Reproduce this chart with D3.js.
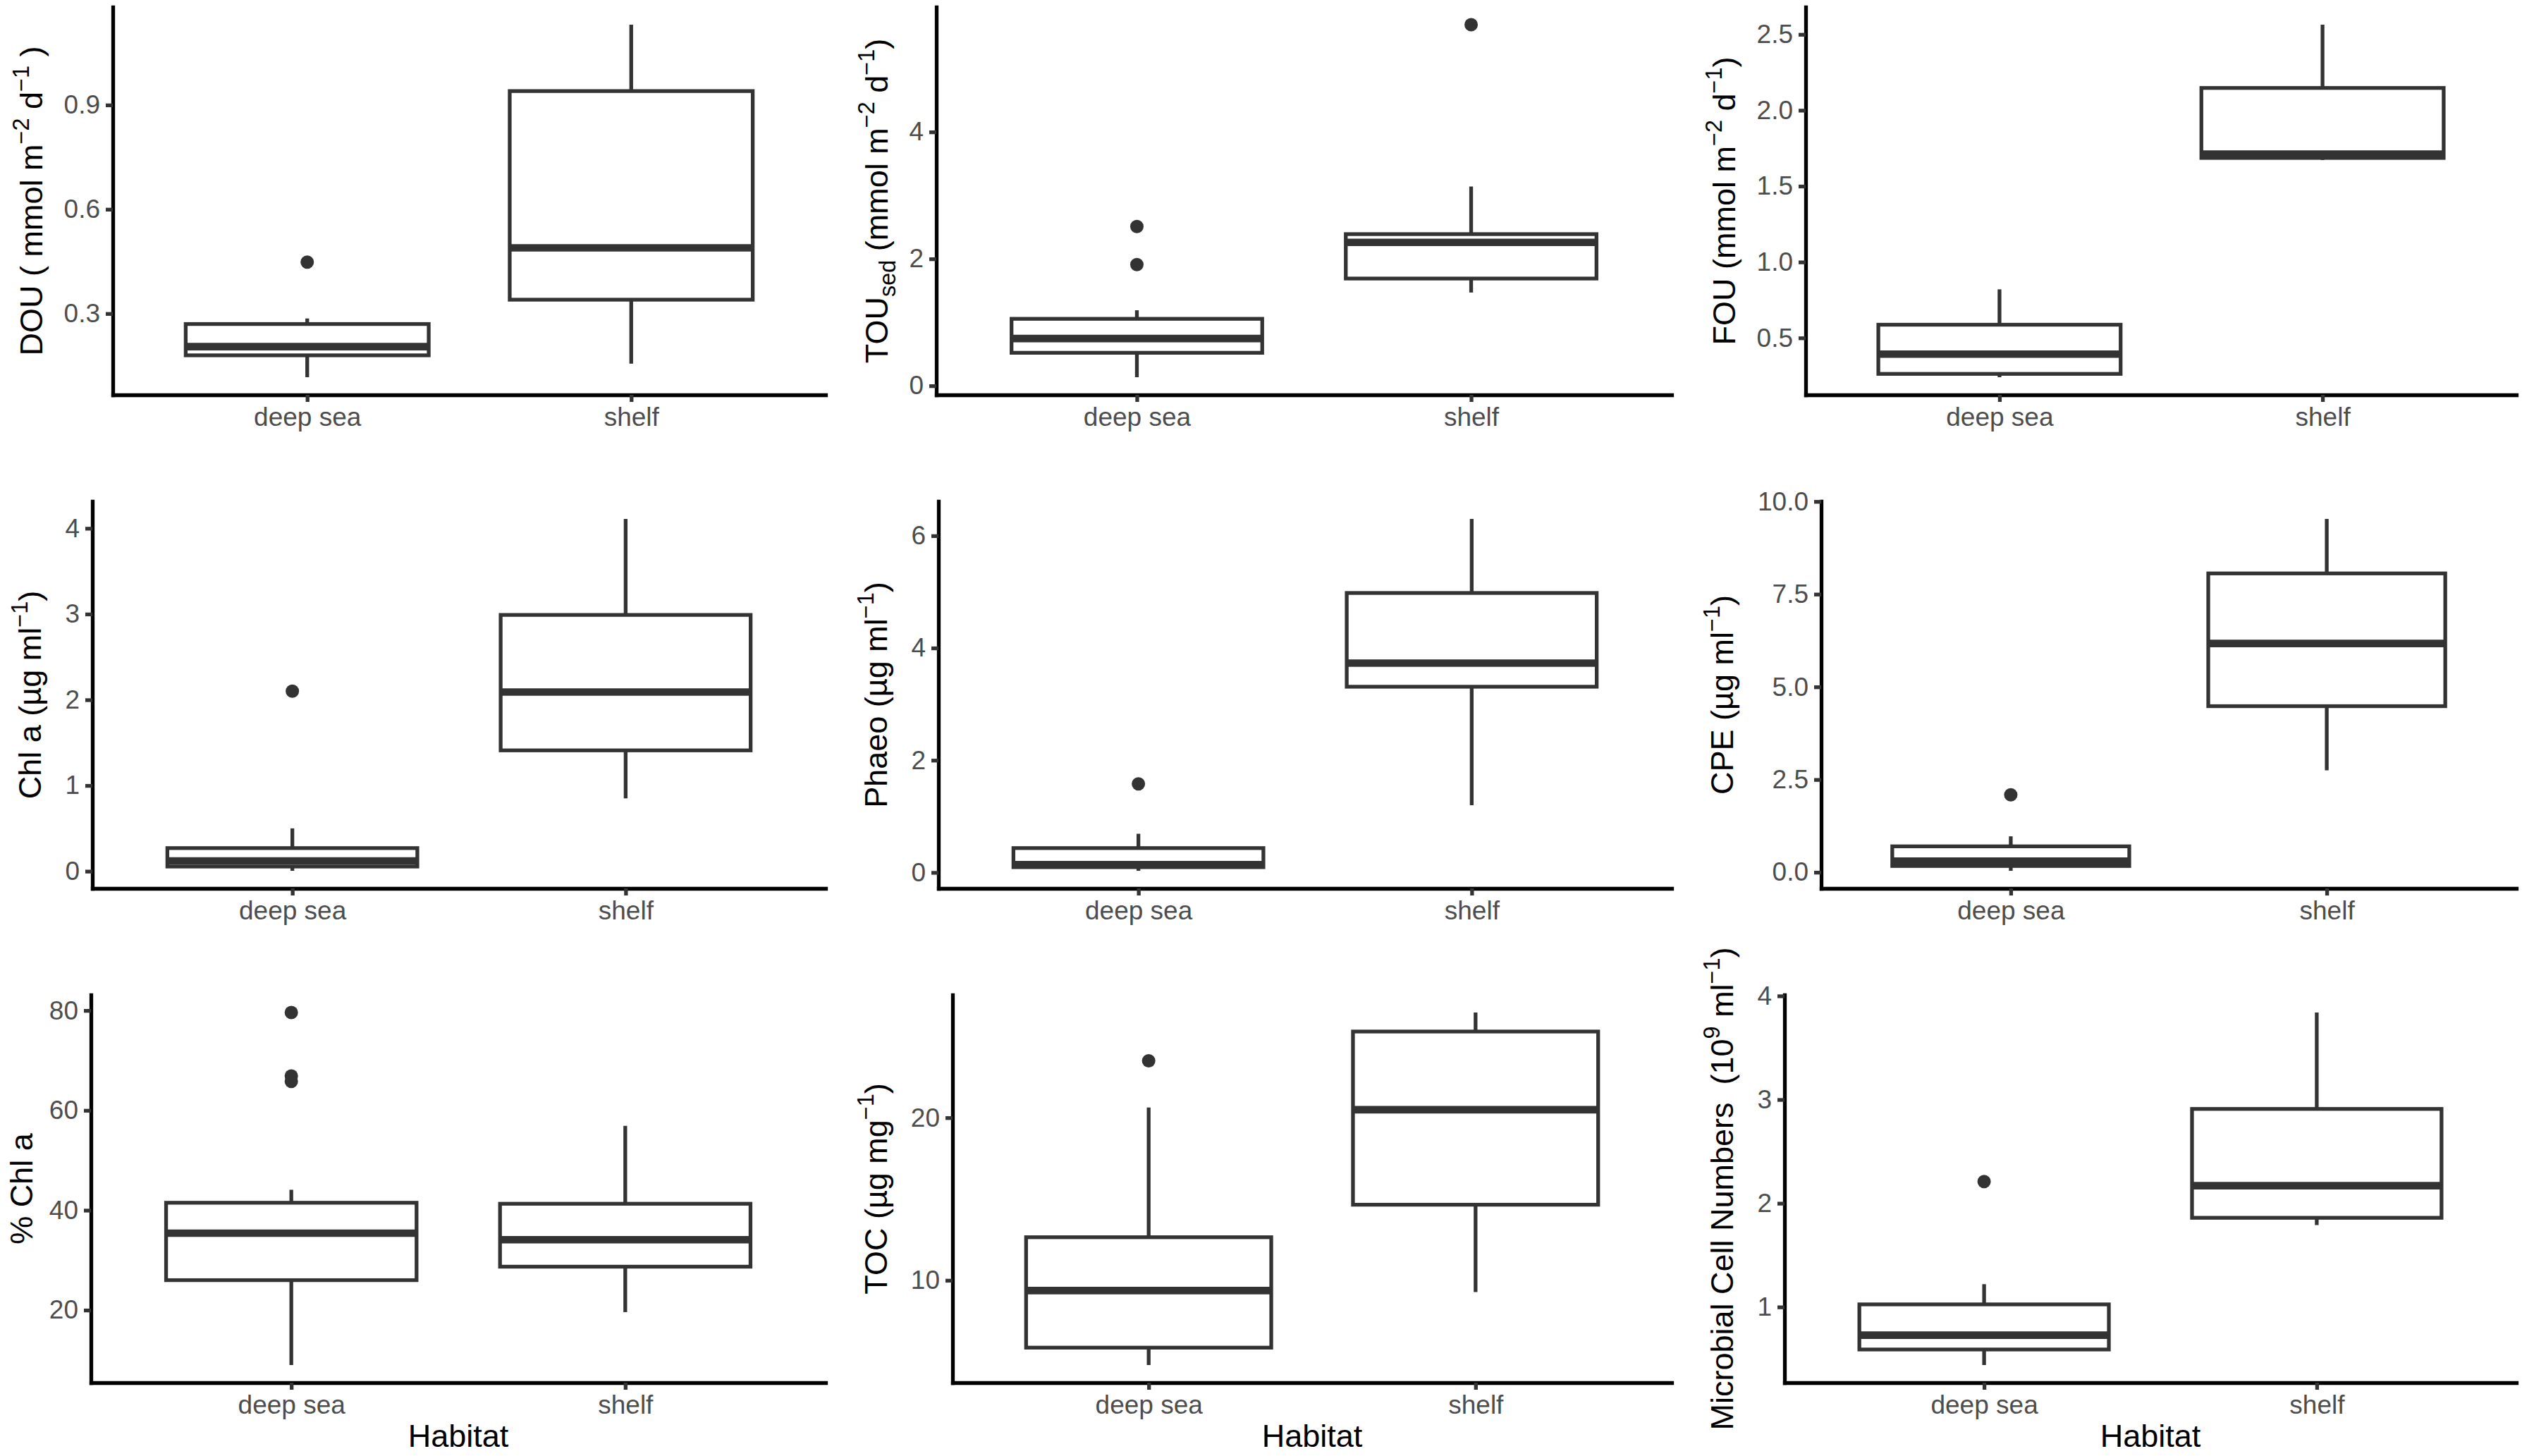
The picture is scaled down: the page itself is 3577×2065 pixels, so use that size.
<!DOCTYPE html>
<html>
<head>
<meta charset="utf-8">
<script src="https://cdn.jsdelivr.net/npm/d3@7"></script>
<style>
  body { margin: 0; background: #fff; }
  svg { display: block; font-family: "Liberation Sans", Arial, Helvetica, sans-serif; }
</style>
</head>
<body>
<div id="chart"></div>
<script>
// categories on every x axis
const habitats = ["deep sea", "shelf"];

// boxplot stats per habitat: [lower whisker, Q1, median, Q3, upper whisker]
const douStats = [[0.117, 0.18, 0.205, 0.27, 0.286], [0.156, 0.34, 0.489, 0.94, 1.131]];
const douOutliers = [[0.448], []];
const douTicks = ["0.3", "0.6", "0.9"];

const touStats = [[0.135, 0.52, 0.745, 1.055, 1.19], [1.47, 1.69, 2.26, 2.39, 3.14]];
const touOutliers = [[1.91, 2.51], [5.69]];
const touTicks = ["0", "2", "4"];

const fouStats = [[0.241, 0.263, 0.393, 0.587, 0.82], [1.672, 1.686, 1.711, 2.147, 2.564]];
const fouOutliers = [[], []];
const fouTicks = ["0.5", "1.0", "1.5", "2.0", "2.5"];

const chlaStats = [[0.005, 0.055, 0.12, 0.27, 0.5], [0.85, 1.41, 2.09, 2.99, 4.11]];
const chlaOutliers = [[2.1], []];
const chlaTicks = ["0", "1", "2", "3", "4"];

const phaeoStats = [[0.03, 0.095, 0.14, 0.435, 0.69], [1.2, 3.31, 3.73, 4.98, 6.3]];
const phaeoOutliers = [[1.58], []];
const phaeoTicks = ["0", "2", "4", "6"];

const cpeStats = [[0.04, 0.17, 0.3, 0.7, 0.97], [2.75, 4.48, 6.17, 8.06, 9.53]];
const cpeOutliers = [[2.09], []];
const cpeTicks = ["0.0", "2.5", "5.0", "7.5", "10.0"];

const pctChlaStats = [[9.0, 26.0, 35.4, 41.5, 44.1], [19.6, 28.7, 34.1, 41.3, 56.9]];
const pctChlaOutliers = [[79.6, 66.9, 65.8], []];
const pctChlaTicks = ["20", "40", "60", "80"];

const tocStats = [[4.79, 5.86, 9.37, 12.65, 20.63], [9.28, 14.65, 20.49, 25.3, 26.47]];
const tocOutliers = [[23.5], []];
const tocTicks = ["10", "20"];

const cellStats = [[0.44, 0.59, 0.728, 1.025, 1.22], [1.79, 1.86, 2.17, 2.91, 3.84]];
const cellOutliers = [[2.21], []];
const cellTicks = ["1", "2", "3", "4"];

// y axis titles, as [text, "sup" | "sub"] pieces
const douTitle = [["DOU ( mmol m"], ["−2", "sup"], [" d"], ["−1", "sup"], [" )"]];
const touTitle = [["TOU"], ["sed", "sub"], [" (mmol m"], ["−2", "sup"], [" d"], ["−1", "sup"], [")"]];
const fouTitle = [["FOU (mmol m"], ["−2", "sup"], [" d"], ["−1", "sup"], [")"]];
const chlaTitle = [["Chl a (µg ml"], ["−1", "sup"], [")"]];
const phaeoTitle = [["Phaeo (µg ml"], ["−1", "sup"], [")"]];
const cpeTitle = [["CPE (µg ml"], ["−1", "sup"], [")"]];
const pctChlaTitle = [["% Chl a"]];
const tocTitle = [["TOC (µg mg"], ["−1", "sup"], [")"]];
const cellTitle = [["Microbial Cell Numbers  (10"], ["9", "sup"], [" ml"], ["−1", "sup"], [")"]];

const xTitle = "Habitat";

const panels = [
    {stats: douStats, outliers: douOutliers, ticks: douTicks, title: douTitle},
    {stats: touStats, outliers: touOutliers, ticks: touTicks, title: touTitle},
    {stats: fouStats, outliers: fouOutliers, ticks: fouTicks, title: fouTitle},
    {stats: chlaStats, outliers: chlaOutliers, ticks: chlaTicks, title: chlaTitle},
    {stats: phaeoStats, outliers: phaeoOutliers, ticks: phaeoTicks, title: phaeoTitle},
    {stats: cpeStats, outliers: cpeOutliers, ticks: cpeTicks, title: cpeTitle},
    {stats: pctChlaStats, outliers: pctChlaOutliers, ticks: pctChlaTicks, title: pctChlaTitle},
    {stats: tocStats, outliers: tocOutliers, ticks: tocTicks, title: tocTitle},
    {stats: cellStats, outliers: cellOutliers, ticks: cellTicks, title: cellTitle}
];

// panel frames (pixel layout of each plotting area) and title baseline x
const frames = [
    {l: 160, t: 10, r: 1171, b: 560, tx: 60},
    {l: 1328, t: 10, r: 2371, b: 560, tx: 1259},
    {l: 2561, t: 10, r: 3569, b: 560, tx: 2461},
    {l: 131, t: 711, r: 1171, b: 1260, tx: 58},
    {l: 1331, t: 711, r: 2371, b: 1260, tx: 1258},
    {l: 2583, t: 711, r: 3569, b: 1260, tx: 2458},
    {l: 129, t: 1411, r: 1171, b: 1961, tx: 46},
    {l: 1351, t: 1411, r: 2371, b: 1961, tx: 1258},
    {l: 2531, t: 1411, r: 3569, b: 1961, tx: 2458}
];

const width = 3577, height = 2065;
const tickFont = 37, titleFont = 45;
const boxColor = "#333333";
const boxLine = 5.3;

const svg = d3.select("#chart").append("svg")
    .attr("width", width)
    .attr("height", height);

svg.append("rect").attr("width", width).attr("height", height).attr("fill", "#fff");

function richText(text, segs, fs) {
    let cur = 0;
    segs.forEach(([s, mode]) => {
        let target = mode === "sup" ? -0.42 * fs : mode === "sub" ? 0.24 * fs : 0;
        text.append("tspan")
            .attr("dy", target - cur)
            .attr("font-size", mode ? fs * 0.72 : fs)
            .text(s);
        cur = target;
    });
}

panels.forEach((p, i) => {
    let f = frames[i];
    let g = svg.append("g");

    let x = d3.scalePoint().domain(habitats).range([f.l, f.r]).padding(0.6);
    let halfBox = x.step() * 0.375;

    // ggplot style 5% expansion around the data
    let all = p.stats.flat().concat(p.outliers.flat());
    let lo = d3.min(all), hi = d3.max(all);
    let pad = (hi - lo) * 0.05;
    let y = d3.scaleLinear().domain([lo - pad, hi + pad]).range([f.b, f.t]);

    // whiskers
    habitats.forEach((h, j) => {
        let s = p.stats[j];
        g.append("line")
            .attr("x1", x(h)).attr("x2", x(h))
            .attr("y1", y(s[0])).attr("y2", y(s[1]))
            .attr("stroke", boxColor).attr("stroke-width", boxLine);
        g.append("line")
            .attr("x1", x(h)).attr("x2", x(h))
            .attr("y1", y(s[3])).attr("y2", y(s[4]))
            .attr("stroke", boxColor).attr("stroke-width", boxLine);
    });

    // boxes
    g.selectAll(".box")
        .data(p.stats)
        .enter()
        .append("rect")
        .attr("class", "box")
        .attr("x", (d, j) => x(habitats[j]) - halfBox)
        .attr("width", halfBox * 2)
        .attr("y", d => y(d[3]))
        .attr("height", d => y(d[1]) - y(d[3]))
        .attr("fill", "#fff")
        .attr("stroke", boxColor)
        .attr("stroke-width", boxLine);

    // medians
    g.selectAll(".median")
        .data(p.stats)
        .enter()
        .append("line")
        .attr("class", "median")
        .attr("x1", (d, j) => x(habitats[j]) - halfBox)
        .attr("x2", (d, j) => x(habitats[j]) + halfBox)
        .attr("y1", d => y(d[2]))
        .attr("y2", d => y(d[2]))
        .attr("stroke", boxColor)
        .attr("stroke-width", boxLine * 2);

    // outliers
    let pts = [];
    p.outliers.forEach((arr, j) => arr.forEach(v => pts.push({h: habitats[j], v: v})));
    g.selectAll(".out")
        .data(pts)
        .enter()
        .append("circle")
        .attr("class", "out")
        .attr("cx", d => x(d.h))
        .attr("cy", d => y(d.v))
        .attr("r", 9.5)
        .attr("fill", boxColor);

    // axes
    let yAxis = d3.axisLeft(y)
        .tickValues(p.ticks.map(Number))
        .tickFormat((d, k) => p.ticks[k])
        .tickSize(10).tickSizeOuter(0).tickPadding(8);
    let yg = g.append("g").attr("transform", `translate(${f.l},0)`).call(yAxis);

    let xAxis = d3.axisBottom(x).tickSize(10).tickSizeOuter(0).tickPadding(8);
    let xg = g.append("g").attr("transform", `translate(0,${f.b})`).call(xAxis);

    [yg, xg].forEach(ax => {
        ax.select(".domain").attr("stroke", "#000").attr("stroke-width", 5.3).attr("stroke-linecap", "square");
        ax.selectAll(".tick line").attr("stroke", boxColor).attr("stroke-width", 5.3);
        ax.selectAll(".tick text")
            .attr("fill", "#4D4D4D")
            .attr("font-size", tickFont)
            .attr("font-family", null);
    });

    // y title
    let t = g.append("text")
        .attr("transform", `translate(${f.tx},${(f.t + f.b) / 2}) rotate(-90)`)
        .attr("text-anchor", "middle")
        .attr("fill", "#000")
        .style("white-space", "pre");
    richText(t, p.title, titleFont);

    // x title on bottom row
    if (i >= 6) {
        g.append("text")
            .attr("x", (f.l + f.r) / 2)
            .attr("y", 2052)
            .attr("text-anchor", "middle")
            .attr("font-size", titleFont)
            .attr("fill", "#000")
            .text(xTitle);
    }
});
</script>
</body>
</html>
